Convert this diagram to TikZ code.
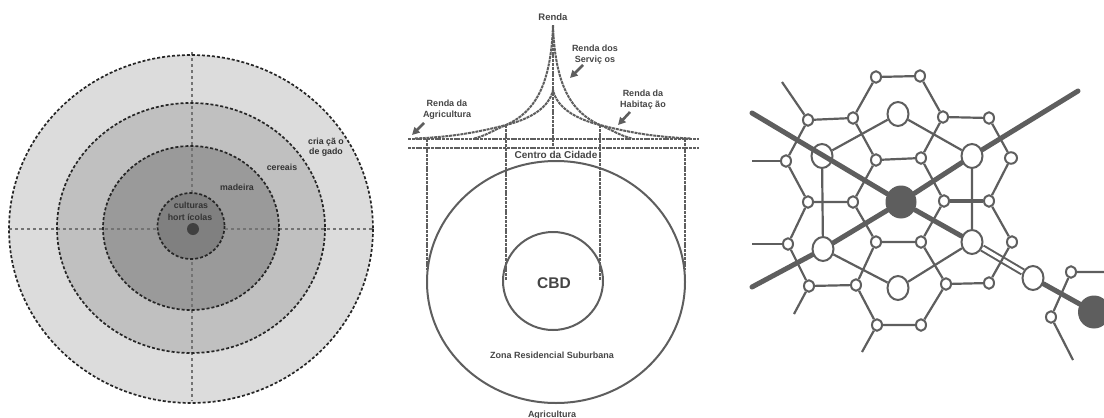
\documentclass[tikz,border=0pt]{standalone}
\usepackage{fontspec}
\setmainfont{Liberation Sans}
\usepackage{tikz}
\usetikzlibrary{arrows.meta,shapes.geometric}
\definecolor{ringA}{HTML}{DCDCDC}
\definecolor{ringB}{HTML}{C0C0C0}
\definecolor{ringC}{HTML}{9A9A9A}
\definecolor{ringD}{HTML}{808080}
\definecolor{linegray}{HTML}{5E5E5E}
\definecolor{txtgray}{HTML}{454545}
\pgfdeclarelayer{bg}
\pgfsetlayers{bg,main}

\begin{document}
\begin{tikzpicture}[x=1pt, y=-1pt, >={Triangle[length=7.5pt,width=7.5pt]},
    lab/.style={font=\bfseries\fontsize{8.8}{10}\selectfont, text=black!80, align=center},
    rlab/.style={font=\bfseries\fontsize{9}{11}\selectfont, text=txtgray, align=center},
    ring/.style={draw=black!85, densely dashed, line width=1.7pt},
    axis/.style={draw=black!55, dashed, line width=1.4pt},
    rent/.style={draw=linegray, dash pattern=on 3pt off 0.8pt, line width=2pt},
    zone/.style={draw=linegray, line width=2pt},
    sm/.style={ellipse, draw=linegray, fill=white, line width=2pt, minimum width=10pt, minimum height=11.5pt, inner sep=0pt},
    lg/.style={ellipse, draw=linegray, fill=white, line width=2pt, minimum width=21pt, minimum height=24pt, inner sep=0pt},
    hubnode/.style={ellipse, fill=linegray, minimum width=31pt, minimum height=33pt, inner sep=0pt},
    edge/.style={draw=linegray, line width=2.2pt},
    road/.style={draw=linegray, line width=5pt, line cap=round}]
    \useasboundingbox (0,0) rectangle (1104,418);

    % 参数
    \def\cx{191}
    \def\cy{229}

    % 同心圆 (von Thünen)
    \fill[ringA] (\cx,\cy) ellipse [x radius=182, y radius=174];
    \fill[ringB] (\cx,228) ellipse [x radius=134, y radius=125];
    \fill[ringC] (\cx,228) ellipse [x radius=88, y radius=82];
    \draw[axis] (9,\cy) -- (373,\cy);
    \draw[axis] (192,52) -- (192,401);
    \fill[ringD] (\cx,226) ellipse [x radius=33.5, y radius=33];
    \draw[ring] (\cx,\cy) ellipse [x radius=182, y radius=174];
    \draw[ring] (\cx,228) ellipse [x radius=134, y radius=125];
    \draw[ring] (\cx,228) ellipse [x radius=88, y radius=82];
    \draw[ring] (\cx,226) ellipse [x radius=33.5, y radius=33];
    \fill[black!75] (193,229) circle [radius=6];

    % 标注
    \node[lab] (gado) at (326,147) {cria çã o\\de gado};
    \node[lab] (cereais) at (282,167) {cereais};
    \node[lab] (madeira) at (237,187) {madeira};
    \node[lab] (cult) at (191,205) {culturas};
    \node[lab] (hort) at (190,217) {hort ícolas};

    % 地租曲线
    \draw[rent] (408,139) -- (699,139);
    \draw[rent] (408,148) -- (699,148);
    \draw[rent] (553,25) -- (553,148);
    \draw[rent] (427,139) -- (427,270);
    \draw[rent] (685,139) -- (685,270);
    \draw[rent] (506,125) -- (506,280);
    \draw[rent] (600,125) -- (600,280);
    % serviços
    \draw[rent] (474,138.5) .. controls (485,136) and (492,131) .. (506,125)
        .. controls (535,112) and (551,85) .. (553,25)
        .. controls (555,85) and (571,112) .. (600,125)
        .. controls (614,131) and (621,136) .. (632,138.5);
    % habitação
    \draw[rent] (415,138.5) .. controls (450,137) and (475,133) .. (506,125)
        .. controls (530,119) and (549,108) .. (553,90)
        .. controls (557,108) and (576,119) .. (600,125)
        .. controls (631,133) and (656,137) .. (691,138.5);

    % 城市分区
    \draw[zone] (556,282) ellipse [x radius=129, y radius=121];
    \draw[zone] (553,281) ellipse [x radius=50, y radius=49];

    % 箭头
    \draw[->, linegray, line width=2.6pt] (583,65) -- (570,78);
    \draw[->, linegray, line width=2.6pt] (630,112) -- (618,125);
    \draw[->, linegray, line width=2.6pt] (424,123) -- (412,135);

    \node[rlab, font=\bfseries\fontsize{9.5}{11}\selectfont] (renda) at (553,17) {Renda};
    \node[rlab] (serv) at (595,55) {Renda dos\\Serviç os};
    \node[rlab] (habit) at (643,100) {Renda da\\Habitaç ão};
    \node[rlab] (agri) at (447,110) {Renda da\\Agricultura};
    \node[rlab, font=\bfseries\fontsize{10}{11}\selectfont] (centro) at (556,155) {Centro da Cidade};
    \node[rlab, font=\bfseries\fontsize{15.5}{17}\selectfont] (cbd) at (554,283) {CBD};
    \node[rlab] (zona) at (552,355) {Zona Residencial Suburbana};
    \node[rlab] (agric) at (552,415) {Agricultura};

    % 六边形网络 (Christaller)
    \node[sm] (t1) at (876,77) {};
    \node[sm] (t2) at (920,76) {};
    \node[sm] (t3) at (943,117) {};
    \node[sm] (t6) at (853,118) {};
    \node[sm] (c1) at (876,160) {};
    \node[sm] (c2) at (921,158) {};
    \node[sm] (c3) at (944,201) {};
    \node[sm] (c4) at (921,242) {};
    \node[sm] (c5) at (876,242) {};
    \node[sm] (c6) at (853,202) {};
    \node[sm] (a1) at (808,120) {};
    \node[sm] (a6) at (786,161) {};
    \node[sm] (a5) at (808,202) {};
    \node[sm] (b1) at (989,118) {};
    \node[sm, minimum width=12pt] (b2) at (1011,158) {};
    \node[sm] (b3) at (989,201) {};
    \node[sm] (d1) at (788,244) {};
    \node[sm] (d2) at (809,286) {};
    \node[sm] (d3) at (856,285) {};
    \node[sm] (e1) at (1012,242) {};
    \node[sm] (e2) at (989,283) {};
    \node[sm] (e3) at (946,284) {};
    \node[sm] (f1) at (921,325) {};
    \node[sm] (f2) at (877,325) {};
    \node[sm] (g1) at (1071,272) {};
    \node[sm] (g2) at (1051,317) {};

    \node[lg] (L1) at (898,114) {};
    \node[lg] (L2) at (822,156) {};
    \node[lg] (L3) at (972,156) {};
    \node[lg] (L4) at (823,249) {};
    \node[lg] (L5) at (972,242) {};
    \node[lg] (L6) at (898,288) {};
    \node[lg] (L7) at (1033,278) {};

    \node[hubnode] (hub) at (901,202) {};
    \node[hubnode, minimum width=32pt] (city) at (1094,312) {};

    \coordinate (w1) at (752,113);
    \coordinate (w2) at (752,287);
    \coordinate (w3) at (1078,91);
    \coordinate (s1) at (782,82);
    \coordinate (s2) at (752,161);
    \coordinate (s3) at (752,244);
    \coordinate (s4) at (794,314);
    \coordinate (s5) at (862,352);
    \coordinate (s6) at (1104,272);
    \coordinate (s7) at (1073,360);

    % 道路在上层穿过 L2
    \draw[road] (w1) -- (hub);

    \begin{pgfonlayer}{bg}
        \draw[road] (hub) -- (L5);
        \draw[road] (w2) -- (L4) -- (hub) -- (L3) -- (w3);
        \draw[road] (L7) -- (city);
        \draw[draw=linegray, double=white, double distance=3.5pt, line width=2pt] (L5) -- (L7);
        \draw[linegray, line width=4pt] (c3) -- (b3);
        % 小六边形
        \draw[edge] (t6) -- (t1) -- (t2) -- (t3) -- (c2);
        \draw[edge] (c1) -- (t6) -- (a1) -- (a6) -- (a5) -- (c6);
        \draw[edge] (c1) -- (c2) -- (c3) -- (c4) -- (c5) -- (c6) -- (c1);
        \draw[edge] (t3) -- (b1) -- (b2) -- (b3);
        \draw[edge] (c5) -- (d3) -- (d2) -- (d1) -- (a5);
        \draw[edge] (b3) -- (e1) -- (e2) -- (e3) -- (c4);
        \draw[edge] (e3) -- (f1) -- (f2) -- (d3);
        % 大六边形
        \draw[edge] (L1) -- (L2) -- (L4) -- (L6) -- (L5) -- (L3) -- (L1);
        % 外伸线
        \draw[edge] (a1) -- (s1);
        \draw[edge] (a6) -- (s2);
        \draw[edge] (d1) -- (s3);
        \draw[edge] (d2) -- (s4);
        \draw[edge] (f2) -- (s5);
        \draw[edge] (s6) -- (g1) -- (g2) -- (s7);
    \end{pgfonlayer}
\end{tikzpicture}
\end{document}
